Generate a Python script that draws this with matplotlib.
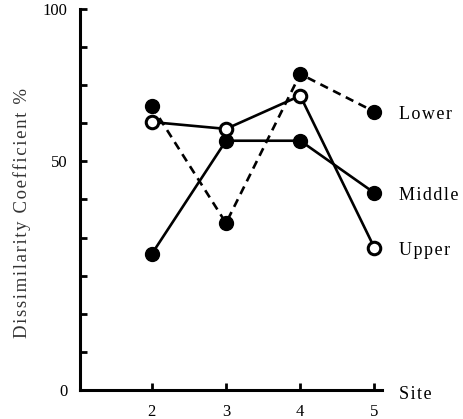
import matplotlib.pyplot as plt

plt.rcParams['font.family'] = ['Liberation Serif', 'DejaVu Serif']

# Dissimilarity coefficient (%) at each site for the three levels
sites = [2, 3, 4, 5]
lower = [74.5, 43.8, 82.9, 73.0]
middle = [35.7, 65.4, 65.4, 51.7]
upper = [70.3, 68.5, 77.2, 37.3]


def spaced(s, gap='\u200a'):
    # widen the lettering a little, typewriter style
    return gap.join(s)


fig = plt.figure(figsize=(4.64, 4.19), dpi=100)
ax = fig.add_axes([0.172, 0.069, 0.651, 0.910])

lw = 1.9
ms = 10
ax.plot(sites, lower, color='black', lw=lw, ls=(0, (3.2, 2.2)),
        marker='o', ms=ms, mfc='black', mec='black')
ax.plot(sites, middle, color='black', lw=lw,
        marker='o', ms=ms, mfc='black', mec='black')
ax.plot(sites, upper, color='black', lw=lw,
        marker='o', ms=ms - 1, mfc='white', mec='black', mew=2.2)

# series names beside the last point
for name, vals in [('Lower', lower), ('Middle', middle), ('Upper', upper)]:
    ax.annotate(spaced(name), xy=(sites[-1], vals[-1]), xytext=(18, -2),
                textcoords='offset points', va='center', ha='left',
                fontsize=13, annotation_clip=False)

ax.set_xlim(1.03, 5.1)
ax.set_ylim(0, 100)
ax.set_xticks(sites)
ax.set_yticks(range(0, 101, 10))
ax.set_yticklabels(['0', '', '', '', '', '', '50', '', '', '', '100'])

for side in ['top', 'right']:
    ax.spines[side].set_visible(False)
for side in ['left', 'bottom']:
    ax.spines[side].set_linewidth(2.2)

ax.tick_params(axis='y', direction='in', length=5, width=2, labelsize=12, pad=9)
ax.tick_params(axis='x', direction='in', length=5, width=2, labelsize=12, pad=10)

ax.set_ylabel(spaced('Dissimilarity Coefficient %'), fontsize=13.5, color='#333333')
ax.yaxis.set_label_coords(-0.16, 0.465)
ax.annotate(spaced('Site'), xy=(1, 0), xycoords='axes fraction', xytext=(12, -3),
            textcoords='offset points', va='center', ha='left', fontsize=13,
            annotation_clip=False)

fig.savefig('out.png', dpi=100)
